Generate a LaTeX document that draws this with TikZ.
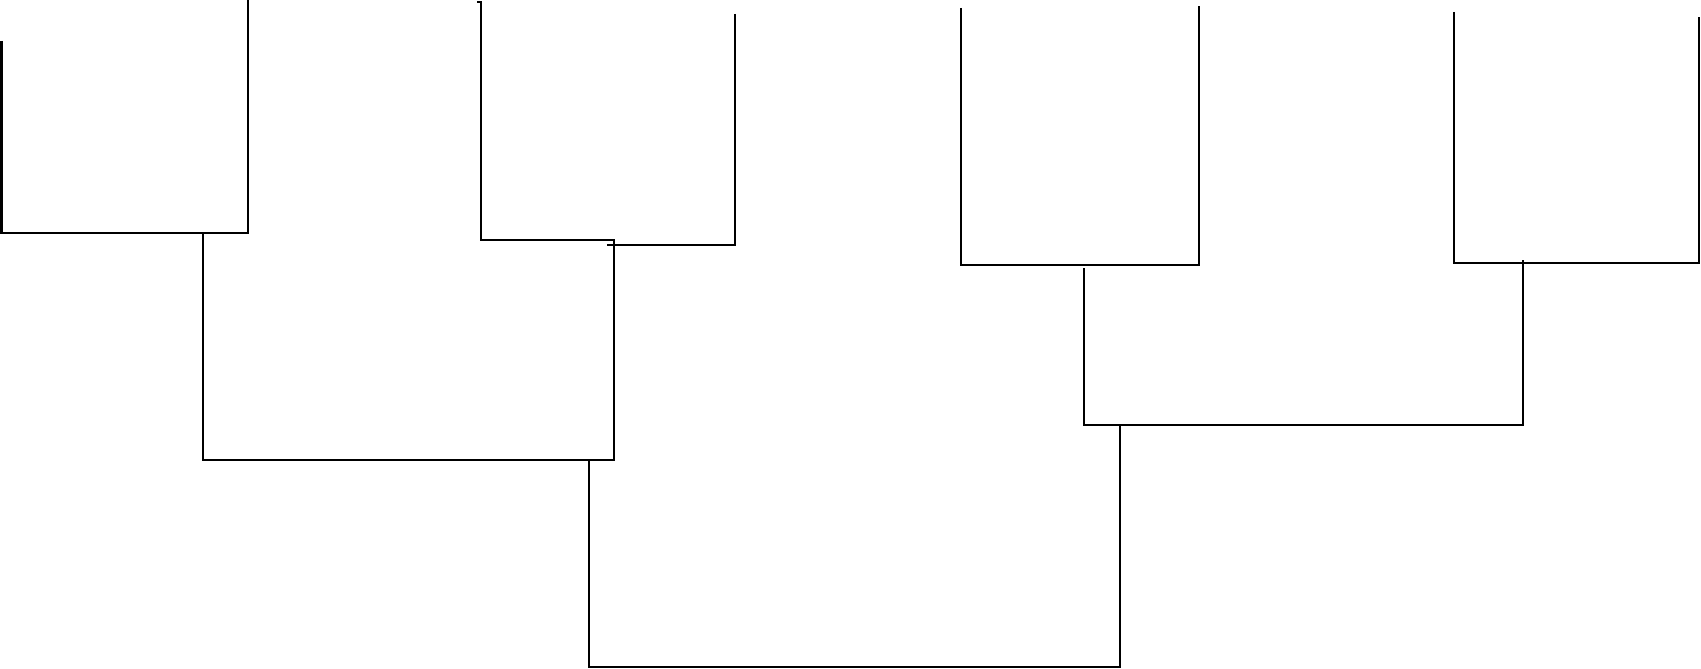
\documentclass[tikz,border=0pt]{standalone}
\begin{document}
\begin{tikzpicture}[x=0.02cm,y=-0.02cm,
  branch/.style={draw=black,line width=1.5pt,line cap=butt,line join=miter}]
\useasboundingbox (0,0) rectangle (1701,669);
% leaves
\coordinate (l1) at (1.5,41);
\coordinate (l2) at (248,0);
\coordinate (l3) at (481,2);
\coordinate (l3t) at (477,2);
\coordinate (l4) at (735,14);
\coordinate (l5) at (961,8);
\coordinate (l6) at (1199,6);
\coordinate (l7) at (1454,12);
\coordinate (l8) at (1699,17);
% joints
\coordinate (j1) at (203,233);
\coordinate (j2a) at (614,240);
\coordinate (j2b) at (607,245);
\coordinate (j12) at (589,460);
\coordinate (j3) at (1084,268);
\coordinate (j4) at (1523,260);
\coordinate (j34) at (1120,425);
% group 1
\path[branch] (l1) -- (1.5,233) -- (248,233) -- (l2);
% group 2
\path[branch] (l3t) -- (l3) -- (481,240) -- (614,240) -- (614,460) -- (203,460) -- (j1);
\path[branch] (l4) -- (735,245) -- (j2b);
% group 3
\path[branch] (l5) -- (961,265) -- (1199,265) -- (l6);
\path[branch] (j3) -- (1084,425) -- (1523,425) -- (j4);
% group 4
\path[branch] (l7) -- (1454,263) -- (1699,263) -- (l8);
% root
\path[branch] (j12) -- (589,667) -- (1120,667) -- (j34);
\end{tikzpicture}
\end{document}
